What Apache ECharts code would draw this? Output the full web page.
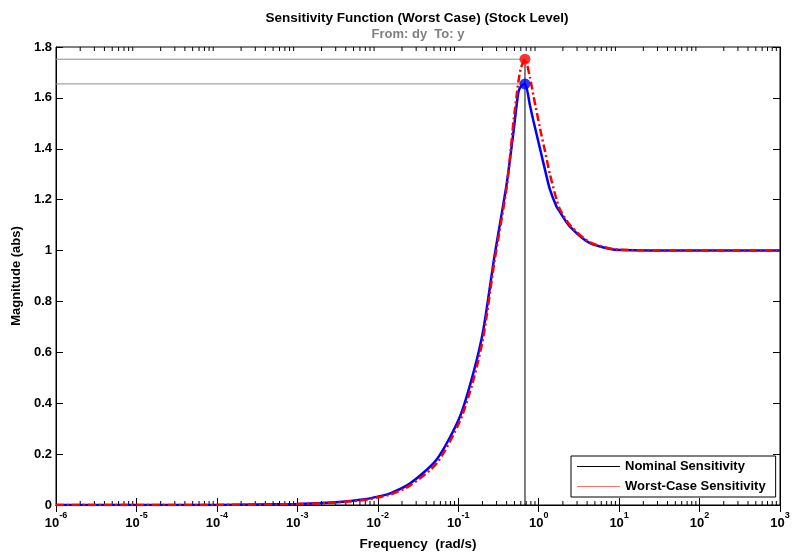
<!DOCTYPE html>
<html>
<head>
<meta charset="utf-8">
<script src="https://cdn.jsdelivr.net/npm/echarts@6/dist/echarts.min.js"></script>
<style>
  html, body { margin: 0; padding: 0; background: #fff; }
  #main { width: 795px; height: 555px; }
</style>
</head>
<body>
<div id="main"></div>
<script>
// frequency points (rad/s)
const freq = [1e-6, 1e-5, 1e-4, 1e-3, 0.003, 0.0073, 0.01, 0.0143, 0.0253, 0.0543, 0.105, 0.154, 0.205, 0.283, 0.401, 0.484, 0.558, 0.6, 0.676, 0.78, 0.86, 1.04, 1.2, 1.38, 1.67, 1.85, 2.45, 4.35, 10.2, 100, 1000];
const nominal = [0, 0, 0.0004, 0.004, 0.011, 0.024, 0.033, 0.046, 0.085, 0.18, 0.347, 0.518, 0.688, 0.98, 1.264, 1.461, 1.62, 1.645, 1.655, 1.57, 1.51, 1.40, 1.317, 1.24, 1.172, 1.15, 1.094, 1.029, 1.002, 1.0, 1.0];
const worst = [0, 0, 0.0004, 0.0037, 0.010, 0.021, 0.030, 0.041, 0.077, 0.165, 0.33, 0.49, 0.66, 0.96, 1.25, 1.50, 1.66, 1.716, 1.752, 1.68, 1.61, 1.48, 1.39, 1.30, 1.20, 1.16, 1.10, 1.032, 1.003, 1.0, 1.0];

// peak markers
const peakFreq = 0.676;
const peakNominal = 1.655;
const peakWorst = 1.752;

// tick labels / minor ticks
const decades = [1e-6, 1e-5, 1e-4, 1e-3, 1e-2, 1e-1, 1, 10, 100];
const minorMult = [2, 3, 4, 5, 6, 7, 8, 9];
const minorTicks = [];
decades.forEach(d => minorMult.forEach(m => minorTicks.push([d * m])));

const font = 'Liberation Sans, Arial, sans-serif';
const fs = 13;
const xMin = 1e-6, xMax = 1e3, yMin = 0, yMax = 1.8;

const pair = (xs, ys) => xs.map((x, i) => [x, ys[i]]);

var myChart = echarts.init(document.getElementById('main'));
myChart.setOption({
  animation: false,
  backgroundColor: '#fff',
  title: [{
    text: 'Sensitivity Function (Worst Case) (Stock Level)',
    left: 412, top: 6, textAlign: 'center',
    textStyle: { fontFamily: font, fontSize: 13.5, fontWeight: 'bold', color: '#000' }
  }, {
    text: 'From: dy  To: y',
    left: 413, top: 23, textAlign: 'center',
    textStyle: { fontFamily: font, fontSize: 13, fontWeight: 'bold', color: '#7f7f7f' }
  }],
  grid: { left: 56, right: 15, top: 47, bottom: 50, outerBoundsMode: 'none', containLabel: false,
          show: true, borderColor: '#000', borderWidth: 1 },
  legend: {
    orient: 'vertical',
    left: 571, top: 456,
    backgroundColor: '#fff',
    borderColor: '#000', borderWidth: 1,
    padding: [4, 10, 4, 6],
    itemGap: 7,
    itemWidth: 43, itemHeight: 1,
    icon: 'rect',
    selectedMode: false,
    textStyle: { fontFamily: font, fontSize: fs, fontWeight: 'bold', color: '#000' },
    data: [
      { name: 'Nominal Sensitivity', itemStyle: { color: '#000' } },
      { name: 'Worst-Case Sensitivity', itemStyle: { color: '#ff7070' } }
    ]
  },
  xAxis: [{
    type: 'log', logBase: 10, min: xMin, max: xMax,
    name: 'Frequency  (rad/s)', nameLocation: 'middle', nameGap: 32,
    nameTextStyle: { fontFamily: font, fontSize: 13.5, fontWeight: 'bold', color: '#000' },
    axisLine: { lineStyle: { color: '#000', width: 1 } },
    axisTick: { inside: true, length: 7, lineStyle: { color: '#000' } },
    splitLine: { show: false },
    axisLabel: {
      margin: 4,
      formatter: v => '{b|10}{s|' + Math.round(Math.log10(v)) + '}',
      rich: {
        b: { fontFamily: font, fontSize: fs, fontWeight: 'bold', color: '#000', padding: [8, 0, 0, 0] },
        s: { fontFamily: font, fontSize: 9, fontWeight: 'bold', color: '#000', padding: [0, 0, 7, 0] }
      }
    }
  }, {
    type: 'log', logBase: 10, min: xMin, max: xMax, position: 'top',
    axisLine: { lineStyle: { color: '#000', width: 1 } },
    axisTick: { inside: true, length: 7, lineStyle: { color: '#000' } },
    axisLabel: { show: false }, splitLine: { show: false }
  }],
  yAxis: [{
    type: 'value', min: yMin, max: yMax, interval: 0.2,
    name: 'Magnitude (abs)', nameLocation: 'middle', nameGap: 31,
    nameTextStyle: { fontFamily: font, fontSize: fs, fontWeight: 'bold', color: '#000' },
    axisLine: { show: true, lineStyle: { color: '#000', width: 1 } },
    axisTick: { show: true, inside: true, length: 7, lineStyle: { color: '#000' } },
    splitLine: { show: false },
    axisLabel: {
      margin: 4,
      fontFamily: font, fontSize: fs, fontWeight: 'bold', color: '#000',
      formatter: v => String(+v.toFixed(1))
    }
  }, {
    type: 'value', min: yMin, max: yMax, interval: 0.2, position: 'right',
    axisLine: { show: true, lineStyle: { color: '#000', width: 1 } },
    axisTick: { show: true, inside: true, length: 7, lineStyle: { color: '#000' } },
    axisLabel: { show: false }, splitLine: { show: false }
  }],
  series: [
    {
      // minor log ticks, top and bottom
      type: 'custom', silent: true, z: 1,
      data: minorTicks,
      renderItem: function (params, api) {
        var b = api.coord([api.value(0), yMin]);
        var t = api.coord([api.value(0), yMax]);
        var st = { stroke: '#000', lineWidth: 1 };
        return {
          type: 'group', children: [
            { type: 'line', shape: { x1: b[0], y1: b[1], x2: b[0], y2: b[1] - 4 }, style: st },
            { type: 'line', shape: { x1: t[0], y1: t[1], x2: t[0], y2: t[1] + 4 }, style: st }
          ]
        };
      }
    },
    {
      type: 'line', silent: true, symbol: 'none', z: 2,
      data: [[xMin, peakWorst], [peakFreq, peakWorst]],
      lineStyle: { color: '#8c8c8c', width: 1 }
    },
    {
      type: 'line', silent: true, symbol: 'none', z: 2,
      data: [[xMin, peakNominal], [peakFreq, peakNominal]],
      lineStyle: { color: '#8c8c8c', width: 1 }
    },
    {
      type: 'line', silent: true, symbol: 'none', z: 2,
      data: [[peakFreq, yMin], [peakFreq, peakWorst]],
      lineStyle: { color: '#000', width: 1 }
    },
    {
      name: 'Nominal Sensitivity',
      type: 'line', symbol: 'none', smooth: 0.25, z: 3,
      data: pair(freq, nominal),
      lineStyle: { color: '#0000ff', width: 2.5 },
      itemStyle: { color: '#0000ff' }
    },
    {
      name: 'Worst-Case Sensitivity',
      type: 'line', symbol: 'none', smooth: 0.25, z: 4,
      data: pair(freq, worst),
      lineStyle: { color: '#ff0000', width: 2.5, type: [8, 3, 2, 3] },
      itemStyle: { color: '#ff0000' }
    },
    {
      type: 'scatter', silent: true, symbolSize: 11, z: 5,
      data: [[peakFreq, peakNominal]],
      itemStyle: { color: '#0000ff' }
    },
    {
      type: 'scatter', silent: true, symbolSize: 11, z: 5,
      data: [[peakFreq, peakWorst]],
      itemStyle: { color: '#ff0000' }
    }
  ]
});
</script>
</body>
</html>
